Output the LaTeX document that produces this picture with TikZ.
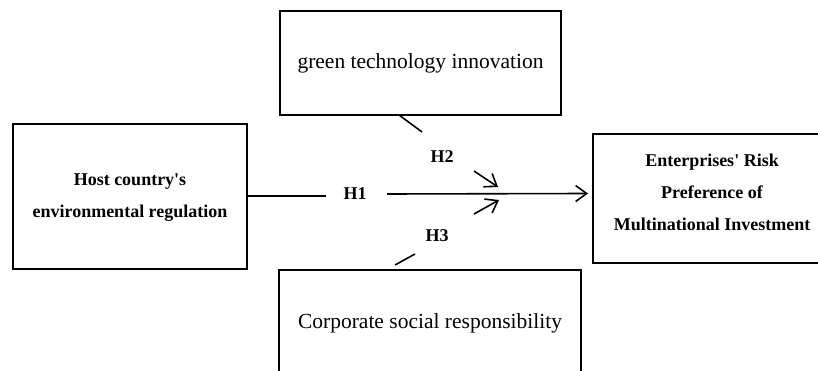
\documentclass[tikz,border=0pt]{standalone}
\usepackage{fontspec}
\setmainfont{Liberation Serif}[Ligatures=TeXOff]
\usetikzlibrary{arrows.meta}
\begin{document}
\begin{tikzpicture}[x=1pt,y=-1pt,
  box/.style={draw,line width=1.5pt,rectangle,inner sep=0pt},
  plain/.style={font=\fontsize{21.5}{26}\selectfont},
  strong/.style={font=\fontsize{18}{32}\selectfont\bfseries,align=center},
  conn/.style={line width=1.6pt},
  arr/.style={conn,-{Straight Barb[length=11pt,width=16pt,line width=1.6pt]}}]
\useasboundingbox (0,0) rectangle (818,371);
\clip (0,0) rectangle (818,371);

% boxes
\node[box,minimum width=234pt,minimum height=145pt] (ind) at (130,196.5) {};
\node[strong] (indtext) at (130,198) {Host country's\\environmental regulation};

\node[box,minimum width=281pt,minimum height=104pt,plain] (gti) at (420.5,63) {green technology innovation};

\node[box,minimum width=302pt,minimum height=106pt,plain] (csr) at (430,323) {Corporate social responsibility};

\node[box,minimum width=238pt,minimum height=129pt] (dep) at (712,198.5) {};
\node[strong] (deptext) at (712,192.5) {Enterprises' Risk\\Preference of\\Multinational Investment};

% hypothesis labels
\node[strong] (h1) at (355,194) {H1};
\node[strong] (h2) at (442,157) {H2};
\node[strong] (h3) at (437,236) {H3};

% connector end points
\coordinate (h1a) at (326,196);
\coordinate (h1b) at (387,194);
\coordinate (h1t) at (588,193.5);
\coordinate (h2s) at (399,115);
\coordinate (h2m) at (422,132);
\coordinate (h2b) at (474,171);
\coordinate (h2t) at (498,187);
\coordinate (h3s) at (395,265);
\coordinate (h3m) at (415,254);
\coordinate (h3b) at (474,214);
\coordinate (h3t) at (499,200);

% H1: direct path
\draw[conn] (ind.east |- h1a) -- (h1a);
\draw[arr] (h1b) -- (h1t);

% H2: moderating path from above
\draw[conn] (h2s) -- (h2m);
\draw[arr] (h2b) -- (h2t);

% H3: moderating path from below
\draw[conn] (h3s) -- (h3m);
\draw[arr] (h3b) -- (h3t);
\end{tikzpicture}
\end{document}
